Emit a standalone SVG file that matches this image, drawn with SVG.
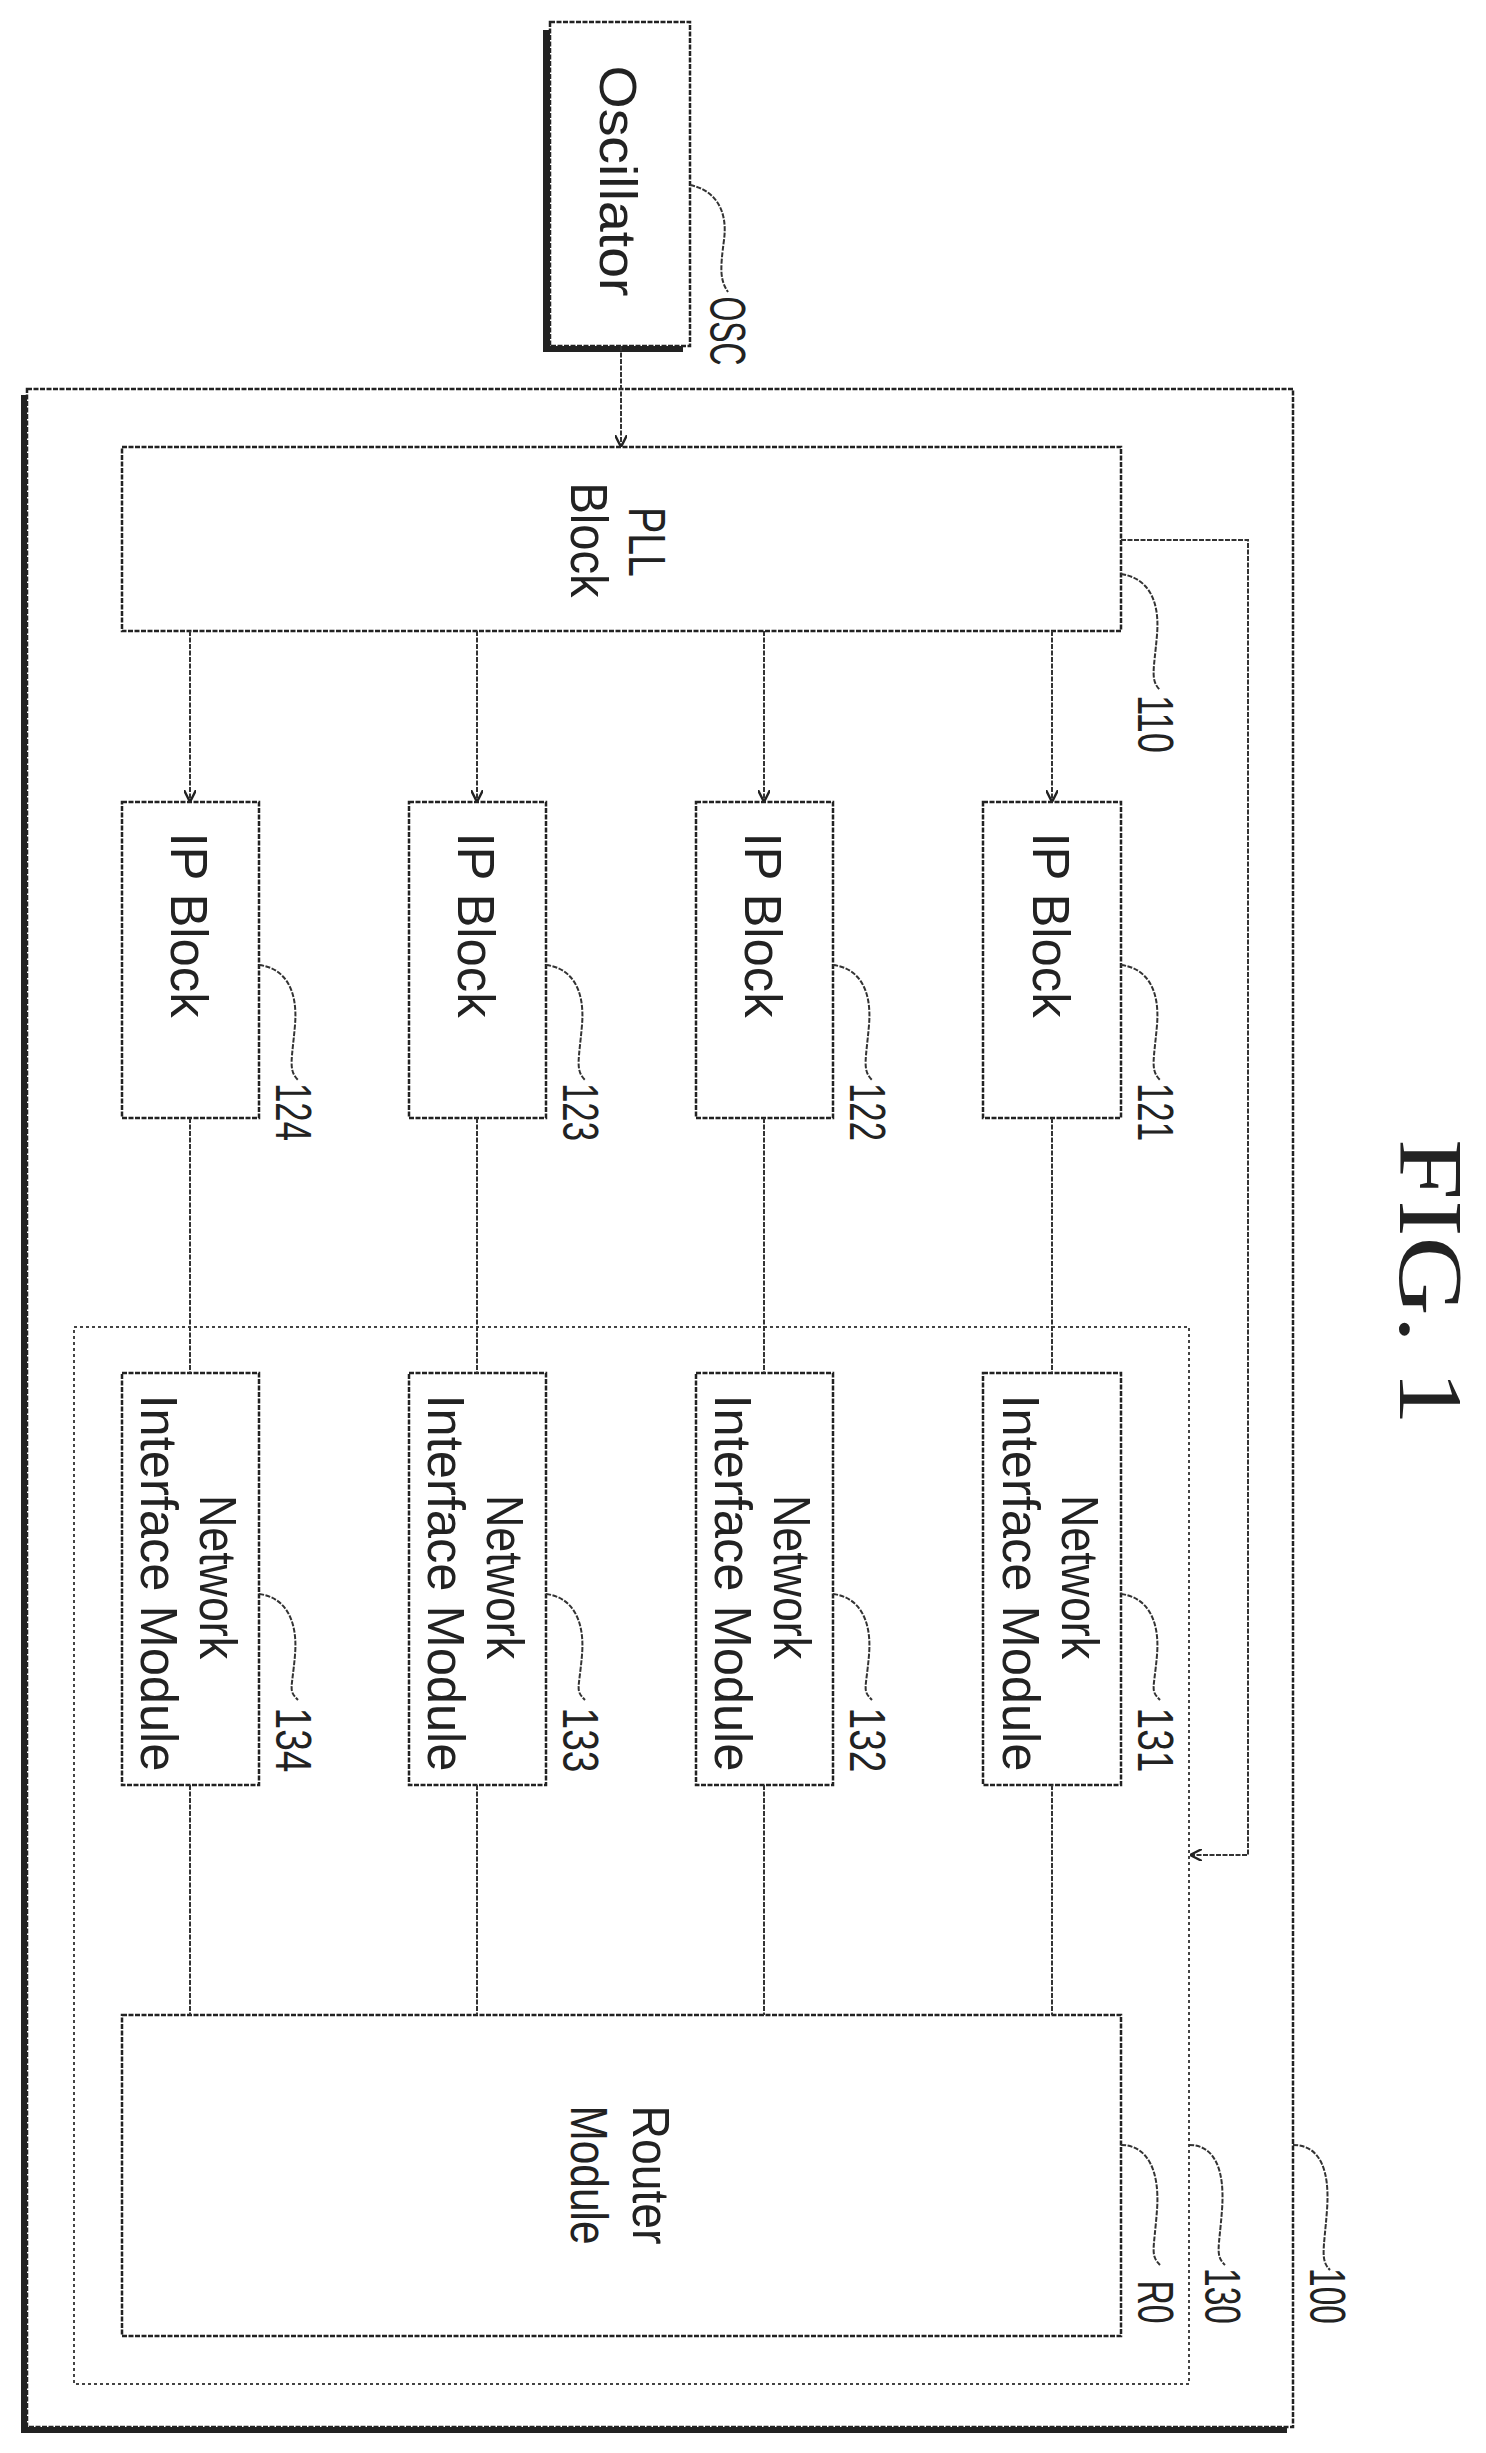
<svg xmlns="http://www.w3.org/2000/svg" width="1486" height="2453" viewBox="0 0 1486 2453">
<style>
.b{fill:#fff;stroke:#222;stroke-width:2.5;stroke-dasharray:5 1.5}
.s{fill:#222}
.l{fill:none;stroke:#333;stroke-width:2;stroke-dasharray:5 1.5}
.d{fill:none;stroke:#444;stroke-width:2;stroke-dasharray:3 3}
.t{font-family:"Liberation Sans",Arial,sans-serif;font-size:52px;fill:#222;text-anchor:middle}
.n{font-family:"Liberation Sans",Arial,sans-serif;font-size:50px;fill:#222;text-anchor:middle}
.f{font-family:"Liberation Serif","Times New Roman",serif;font-size:92px;fill:#222;text-anchor:middle}
</style>
<defs>
<marker id="a" viewBox="0 0 10 10" refX="10" refY="5" markerWidth="12" markerHeight="12" markerUnits="userSpaceOnUse" orient="auto">
<path d="M0,0 L10,5 L0,10" fill="none" stroke="#222" stroke-width="2"/>
</marker>
</defs>
<g id="n100">
<rect x="21" y="395" width="1266" height="2038" class="s"/>
<rect x="27" y="389" width="1266" height="2038" class="b"/>
<path class="l" d="M1293,2145 C1320,2145 1330,2170 1327,2210 S1320,2260 1330,2270"/>
<text class="n" transform="translate(1310,2296) rotate(90)" textLength="56" lengthAdjust="spacingAndGlyphs">100</text>
</g>
<g id="n130">
<rect x="74" y="1327" width="1115" height="1057" class="d"/>
<path class="l" d="M1189,2145 C1215,2145 1225,2170 1222,2210 S1215,2255 1225,2265"/>
<text class="n" transform="translate(1205,2296) rotate(90)" textLength="56" lengthAdjust="spacingAndGlyphs">130</text>
</g>
<g id="osc">
<rect x="543" y="30" width="140" height="322" class="s"/>
<rect x="550" y="22" width="140" height="324" class="b"/>
<text class="t" transform="translate(600,181) rotate(90)" textLength="231" lengthAdjust="spacingAndGlyphs">Oscillator</text>
<path class="l" d="M690,185 C715,190 728,210 724,240 S720,280 728,292"/>
<text class="n" transform="translate(710,331) rotate(90)" textLength="69" lengthAdjust="spacingAndGlyphs">OSC</text>
</g>
<g id="pll">
<rect x="122" y="447" width="999" height="184" class="b"/>
<text class="t" transform="translate(629,542) rotate(90)" textLength="70" lengthAdjust="spacingAndGlyphs">PLL</text>
<text class="t" transform="translate(571,540) rotate(90)" textLength="115" lengthAdjust="spacingAndGlyphs">Block</text>
<path class="l" d="M1121,574 C1148,578 1160,600 1157,635 S1150,680 1160,690"/>
<text class="n" transform="translate(1138,724) rotate(90)" textLength="58" lengthAdjust="spacingAndGlyphs">110</text>
</g>
<g id="ip124"><rect x="122" y="802" width="137" height="316" class="b"/><text class="t" transform="translate(171,925) rotate(90)" textLength="185" lengthAdjust="spacingAndGlyphs">IP Block</text>
<path class="l" d="M259,965 C285,968 298,990 295,1025 S288,1070 298,1080"/><text class="n" transform="translate(276,1112) rotate(90)" textLength="58" lengthAdjust="spacingAndGlyphs">124</text></g>
<g id="ip123"><rect x="409" y="802" width="137" height="316" class="b"/><text class="t" transform="translate(458,925) rotate(90)" textLength="185" lengthAdjust="spacingAndGlyphs">IP Block</text>
<path class="l" d="M546,965 C572,968 585,990 582,1025 S575,1070 585,1080"/><text class="n" transform="translate(563,1112) rotate(90)" textLength="58" lengthAdjust="spacingAndGlyphs">123</text></g>
<g id="ip122"><rect x="696" y="802" width="137" height="316" class="b"/><text class="t" transform="translate(745,925) rotate(90)" textLength="185" lengthAdjust="spacingAndGlyphs">IP Block</text>
<path class="l" d="M833,965 C859,968 872,990 869,1025 S862,1070 872,1080"/><text class="n" transform="translate(850,1112) rotate(90)" textLength="58" lengthAdjust="spacingAndGlyphs">122</text></g>
<g id="ip121"><rect x="983" y="802" width="138" height="316" class="b"/><text class="t" transform="translate(1033,925) rotate(90)" textLength="185" lengthAdjust="spacingAndGlyphs">IP Block</text>
<path class="l" d="M1121,965 C1147,968 1160,990 1157,1025 S1150,1070 1160,1080"/><text class="n" transform="translate(1138,1112) rotate(90)" textLength="58" lengthAdjust="spacingAndGlyphs">121</text></g>
<g id="ni134"><rect x="122" y="1373" width="137" height="412" class="b"/><text class="t" transform="translate(200,1577) rotate(90)" textLength="164" lengthAdjust="spacingAndGlyphs">Network</text><text class="t" transform="translate(141,1583) rotate(90)" textLength="377" lengthAdjust="spacingAndGlyphs">Interface Module</text>
<path class="l" d="M259,1594 C285,1597 298,1620 295,1655 S288,1690 298,1700"/><text class="n" transform="translate(276,1740) rotate(90)" textLength="65" lengthAdjust="spacingAndGlyphs">134</text></g>
<g id="ni133"><rect x="409" y="1373" width="137" height="412" class="b"/><text class="t" transform="translate(487,1577) rotate(90)" textLength="164" lengthAdjust="spacingAndGlyphs">Network</text><text class="t" transform="translate(428,1583) rotate(90)" textLength="377" lengthAdjust="spacingAndGlyphs">Interface Module</text>
<path class="l" d="M546,1594 C572,1597 585,1620 582,1655 S575,1690 585,1700"/><text class="n" transform="translate(563,1740) rotate(90)" textLength="65" lengthAdjust="spacingAndGlyphs">133</text></g>
<g id="ni132"><rect x="696" y="1373" width="137" height="412" class="b"/><text class="t" transform="translate(774,1577) rotate(90)" textLength="164" lengthAdjust="spacingAndGlyphs">Network</text><text class="t" transform="translate(715,1583) rotate(90)" textLength="377" lengthAdjust="spacingAndGlyphs">Interface Module</text>
<path class="l" d="M833,1594 C859,1597 872,1620 869,1655 S862,1690 872,1700"/><text class="n" transform="translate(850,1740) rotate(90)" textLength="65" lengthAdjust="spacingAndGlyphs">132</text></g>
<g id="ni131"><rect x="983" y="1373" width="138" height="412" class="b"/><text class="t" transform="translate(1062,1577) rotate(90)" textLength="164" lengthAdjust="spacingAndGlyphs">Network</text><text class="t" transform="translate(1003,1583) rotate(90)" textLength="377" lengthAdjust="spacingAndGlyphs">Interface Module</text>
<path class="l" d="M1121,1594 C1147,1597 1160,1620 1157,1655 S1150,1690 1160,1700"/><text class="n" transform="translate(1138,1740) rotate(90)" textLength="65" lengthAdjust="spacingAndGlyphs">131</text></g>
<g id="r0">
<rect x="122" y="2015" width="999" height="321" class="b"/>
<text class="t" transform="translate(633,2175) rotate(90)" textLength="139" lengthAdjust="spacingAndGlyphs">Router</text>
<text class="t" transform="translate(571,2175) rotate(90)" textLength="139" lengthAdjust="spacingAndGlyphs">Module</text>
<path class="l" d="M1121,2145 C1147,2145 1160,2170 1157,2210 S1150,2255 1160,2265"/>
<text class="n" transform="translate(1138,2302) rotate(90)" textLength="43" lengthAdjust="spacingAndGlyphs">R0</text>
</g>
<g id="connectors">
<path class="l" d="M621,346 V447" marker-end="url(#a)"/>
<path class="l" d="M190,631 V802" marker-end="url(#a)"/>
<path class="l" d="M477,631 V802" marker-end="url(#a)"/>
<path class="l" d="M764,631 V802" marker-end="url(#a)"/>
<path class="l" d="M1052,631 V802" marker-end="url(#a)"/>
<path class="l" d="M1121,540 H1248 V1855 H1190" marker-end="url(#a)"/>
<path class="l" d="M190,1118 V1373 M477,1118 V1373 M764,1118 V1373 M1052,1118 V1373"/>
<path class="l" d="M190,1785 V2015 M477,1785 V2015 M764,1785 V2015 M1052,1785 V2015"/>
</g>
<text class="f" transform="translate(1400,1282) rotate(90)" textLength="286" lengthAdjust="spacingAndGlyphs">FIG. 1</text>
</svg>
